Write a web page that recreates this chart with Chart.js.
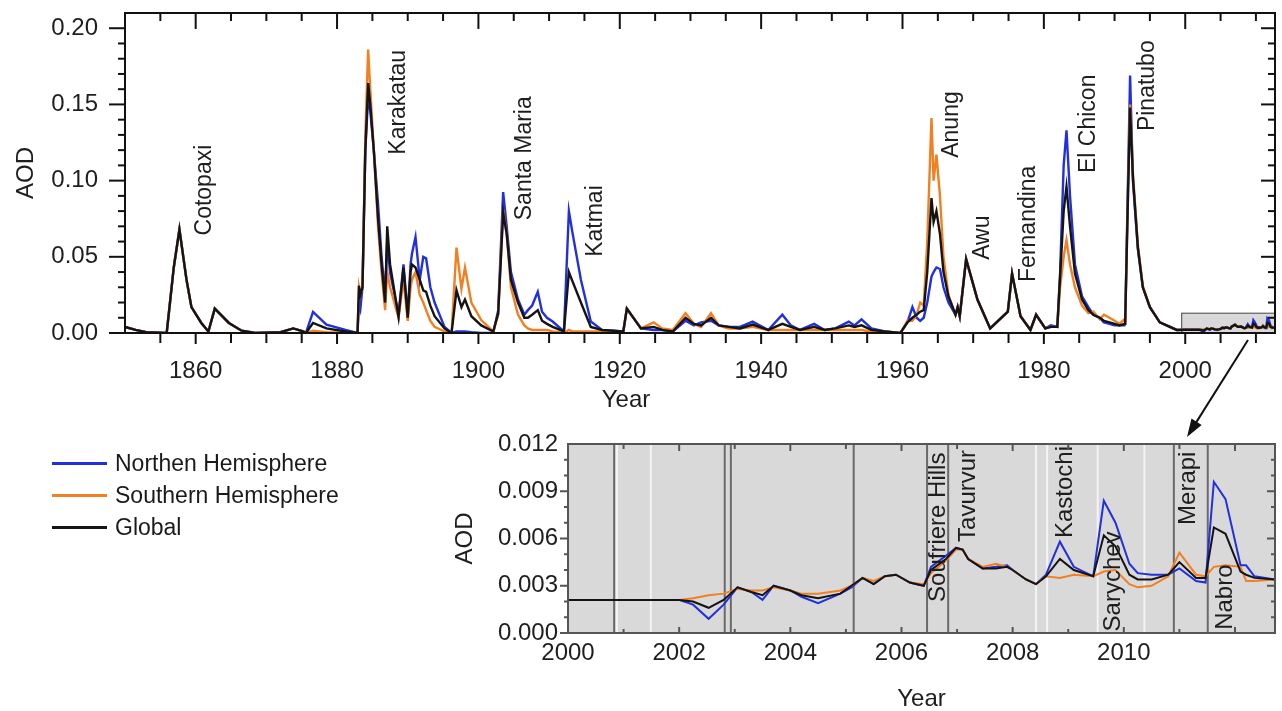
<!DOCTYPE html>
<html>
<head>
<meta charset="utf-8">
<script src="https://cdn.jsdelivr.net/npm/chart.js@4"></script>
<style>
  body { margin: 0; background: #fff; width: 1282px; height: 711px; overflow: hidden; position: relative;
         font-family: 'Liberation Sans', Arial, sans-serif; }
  #main { position: absolute; left: 0; top: 0; }
  #inset { position: absolute; left: 440px; top: 420px; }
  #legend { position: absolute; left: 52px; top: 447px; }
  .row { display: flex; align-items: center; height: 32px; font-size: 23px; color: #1a1a1a; }
  .row i { display: inline-block; width: 55px; height: 3px; margin-right: 8px; }
</style>
</head>
<body>
<canvas id="main" width="1282" height="711"></canvas>
<canvas id="inset" width="842" height="300"></canvas>
<div id="legend"></div>
<script>
const seriesNames = ['Northen Hemisphere', 'Southern Hemisphere', 'Global'];
const seriesColors = ['#2230dc', '#f08022', '#141414'];

// long record, 1850-2000
const mainYears = [1850.0, 1851.5, 1853.0, 1855.9, 1856.9, 1857.7, 1858.7, 1859.4, 1860.8, 1861.8,
  1862.7, 1864.7, 1866.5, 1868.4, 1872.0, 1873.8, 1875.2, 1875.6, 1876.6, 1878.5,
  1881.2, 1882.9, 1883.1, 1883.3, 1883.6, 1884.0, 1884.4, 1884.7, 1885.2, 1885.8,
  1886.3, 1886.8, 1887.1, 1887.5, 1888.7, 1889.4, 1890.0, 1890.4, 1890.6, 1891.1,
  1891.7, 1892.2, 1892.6, 1893.2, 1893.8, 1895.2, 1896.2, 1896.9, 1897.6, 1898.1,
  1899.0, 1900.4, 1902.1, 1902.8, 1903.5, 1904.0, 1904.6, 1905.6, 1906.5, 1907.0,
  1907.6, 1908.4, 1909.0, 1909.7, 1910.5, 1912.1, 1912.8, 1913.3, 1914.5, 1915.9,
  1917.5, 1920.5, 1921.0, 1923.0, 1924.8, 1926.0, 1927.5, 1929.3, 1930.5, 1931.5,
  1932.9, 1934.0, 1935.4, 1937.0, 1938.8, 1941.0, 1943.0, 1944.2, 1945.5, 1947.5,
  1949.0, 1950.5, 1952.4, 1953.2, 1954.2, 1955.6, 1957.5, 1959.7, 1960.7, 1961.4,
  1962.0, 1962.5, 1963.0, 1963.5, 1964.1, 1964.4, 1964.8, 1965.3, 1965.8, 1966.5,
  1967.5, 1967.8, 1968.1, 1969.0, 1970.6, 1972.4, 1974.9, 1975.5, 1976.7, 1978.1,
  1978.9, 1980.2, 1981.0, 1981.9, 1982.3, 1982.8, 1983.2, 1983.7, 1984.4, 1985.4,
  1986.3, 1987.0, 1987.9, 1988.5, 1989.3, 1990.0, 1990.7, 1991.4, 1991.5, 1991.9,
  1992.2, 1992.6, 1993.3, 1994.0, 1995.0, 1996.4, 1998.8];
const mainNorth = [.004, .002, .0005, 0, .043, .068, .035, .017, .0066, .001,
  .016, .0066, .0015, 0, .0005, .003, .001, 0, .0138, .0055,
  .002, 0, .02, .016, .03, .12, .155, .146, .12, .085,
  .05, .025, .06, .04, .012, .045, .012, .045, .052, .063,
  .035, .05, .049, .03, .02, .004, 0, .001, .001, .001,
  .0005, 0, 0, .015, .0925, .07, .04, .022, .012, .015,
  .018, .027, .014, .01, .0075, .001, .08, .066, .035, .0075,
  .002, .001, .016, .003, .002, .002, .001, .008, .005, .007,
  .008, .005, .004, .004, .0075, .002, .012, .005, .002, .006,
  .002, .003, .0075, .005, .009, .003, .001, 0, .007, .017,
  .01, .008, .01, .02, .037, .04, .043, .042, .03, .02,
  .012, .017, .011, .0485, .022, .003, .014, .039, .011, .002,
  .012, .003, .005, .004, .04, .11, .133, .09, .045, .024,
  .017, .012, .01, .007, .006, .005, .005, .005, .006, .1,
  .169, .1, .055, .03, .017, .007, .002];
const mainSouth = [.004, .002, .0005, 0, .043, .068, .035, .017, .0066, .001,
  .016, .0066, .0015, 0, .0005, .003, .001, 0, .0015, .0005,
  0, 0, .03, .025, .03, .13, .186, .16, .12, .07,
  .04, .015, .04, .03, .01, .035, .008, .03, .035, .04,
  .025, .02, .015, .008, .004, .001, 0, .056, .029, .043,
  .02, .0085, .001, .012, .081, .065, .03, .012, .005, .003,
  .002, .002, .002, .002, .001, 0, .002, .001, .001, .001,
  .001, .001, .016, .003, .007, .003, .002, .013, .006, .004,
  .013, .005, .003, .003, .004, .002, .002, .002, .002, .002,
  .002, .002, .002, .002, .002, .001, .001, 0, .008, .008,
  .012, .02, .018, .06, .141, .1, .117, .09, .05, .025,
  .012, .017, .011, .0485, .022, .003, .014, .039, .011, .002,
  .012, .003, .004, .004, .03, .05, .061, .045, .03, .018,
  .013, .014, .009, .012, .01, .008, .006, .009, .006, .09,
  .15, .105, .058, .031, .017, .007, .002];
const mainGlobal = [.004, .002, .0005, 0, .043, .068, .035, .017, .0066, .001,
  .016, .0066, .0015, 0, .0005, .003, .001, 0, .0066, .003,
  .001, 0, .031, .025, .03, .12, .164, .15, .12, .075,
  .045, .02, .07, .045, .0105, .043, .01, .04, .045, .043,
  .035, .028, .027, .018, .011, .003, 0, .028, .017, .022,
  .011, .005, .001, .013, .079, .065, .035, .02, .01, .01,
  .012, .015, .008, .006, .004, .001, .04, .034, .02, .004,
  .002, .001, .016, .003, .004, .002, .001, .01, .006, .005,
  .01, .005, .004, .003, .0055, .002, .006, .004, .002, .004,
  .002, .003, .005, .004, .005, .002, .001, 0, .007, .01,
  .012, .014, .015, .04, .0886, .073, .08, .065, .04, .024,
  .012, .017, .011, .0485, .022, .003, .014, .039, .011, .002,
  .012, .003, .004, .004, .037, .08, .096, .07, .039, .022,
  .015, .012, .01, .008, .007, .006, .005, .006, .006, .09,
  .148, .102, .056, .03, .017, .007, .002];

// recent record, 2000-2012 (inset)
const insetYears = [2000.0, 2002.0, 2002.25, 2002.53, 2002.8, 2003.05, 2003.3, 2003.5, 2003.7, 2004.0,
  2004.2, 2004.5, 2004.9, 2005.1, 2005.3, 2005.5, 2005.7, 2005.9, 2006.15, 2006.4,
  2006.53, 2006.8, 2006.98, 2007.1, 2007.2, 2007.46, 2007.7, 2007.9, 2008.0, 2008.24,
  2008.42, 2008.6, 2008.85, 2009.1, 2009.45, 2009.64, 2009.85, 2010.1, 2010.25, 2010.5,
  2010.8, 2011.0, 2011.3, 2011.47, 2011.62, 2011.83, 2012.1, 2012.2, 2012.35, 2012.72];
const insetNorth = [.0021, .0021, .0018, .0009, .0018, .0029, .0026, .0021, .003, .0027,
  .0023, .0019, .0025, .0029, .0035, .0031, .0036, .0037, .0032, .003,
  .0042, .0049, .0054, .0053, .0047, .0041, .0042, .0043, .004, .0034,
  .0031, .0037, .0058, .0042, .0036, .0084, .007, .0044, .0038, .0037,
  .0037, .0041, .0033, .0032, .0096, .0085, .0043, .0043, .0036, .0034];
const insetSouth = [.0021, .0021, .0022, .0024, .0025, .0028, .0027, .0027, .0029, .0027,
  .0025, .0025, .0027, .003, .0035, .0033, .0036, .0037, .0032, .0031,
  .0038, .0046, .0053, .0053, .0047, .0042, .0044, .0042, .004, .0034,
  .0031, .0036, .0035, .0037, .0036, .0039, .004, .0031, .0029, .003,
  .0036, .0051, .0037, .0036, .0042, .0043, .0042, .0033, .0033, .0034];
const insetGlobal = [.0021, .0021, .002, .0016, .0021, .0029, .0026, .0024, .003, .0027,
  .0024, .0022, .0025, .003, .0035, .0031, .0036, .0037, .0032, .003,
  .004, .0047, .0054, .0053, .0047, .0041, .0041, .0042, .004, .0034,
  .0031, .0036, .0047, .004, .0036, .0062, .0055, .0037, .0034, .0034,
  .0037, .0045, .0035, .0035, .0067, .0063, .0039, .0037, .0035, .0034];

// eruption markers in the inset
const insetDarkLines = [2000.83, 2002.82, 2002.93, 2005.14, 2006.46, 2006.84, 2010.9, 2011.51];
const insetLightLines = [2000.88, 2001.49, 2008.42, 2008.62, 2009.53, 2010.37];

const mainEvents = ['Cotopaxi', 'Karakatau', 'Santa Maria', 'Katmai', 'Anung', 'Awu', 'Fernandina', 'El Chicon', 'Pinatubo'];
const insetEvents = ['Soufriere Hills', 'Tavurvur', 'Kastochi', 'Sarychev', 'Merapi', 'Nabro'];

const FONT = "'Liberation Sans', Arial, sans-serif";
Chart.defaults.font.family = FONT;
Chart.defaults.color = '#1e1e1e';

let pairs = (xs, ys) => xs.map((x, i) => ({x: x, y: ys[i]}));

let makeSets = (north, south, global, width) => [north, south, global].map((d, i) => ({
  label: seriesNames[i],
  data: d,
  borderColor: seriesColors[i],
  borderWidth: width,
  pointRadius: 0,
  tension: 0,
  fill: false,
  order: [2, 1, 0][i]
}));

// the tick padding also pads the chart area; drop that so the plot box sits where the figure has it
let noPad = s => { s.paddingTop = 0; s.paddingBottom = 0; s.paddingLeft = 0; s.paddingRight = 0; };

// frame and tick marks, drawn by hand so majors/minors and in/out ticks match the figure
const frameTicks = {
  id: 'frameTicks',
  afterDatasetsDraw(chart, args, o) {
    const {ctx, chartArea: a, scales: {x, y}} = chart;
    ctx.save();
    ctx.strokeStyle = o.color;
    ctx.lineWidth = o.width;
    let seg = (x1, y1, x2, y2) => { ctx.beginPath(); ctx.moveTo(x1, y1); ctx.lineTo(x2, y2); ctx.stroke(); };
    for (let k = 0; ; k++) {
      const v = o.xStart + k * o.xStep;
      if (v >= x.max) break;
      const px = x.getPixelForValue(v), m = v % o.xMajor === 0 ? 0 : 1;
      seg(px, a.bottom, px, a.bottom + o.bottom[m]);
      seg(px, a.top, px, a.top - o.top[m]);
    }
    for (let k = 0; ; k++) {
      const v = k * o.yStep;
      if (v > y.max - o.yStep / 2) break;
      const py = y.getPixelForValue(v), m = k % o.yMajor === 0 ? 0 : 1;
      seg(a.left, py, a.left - o.left[m], py);
      seg(a.right, py, a.right + o.right[m], py);
    }
    ctx.strokeRect(a.left, a.top, a.right - a.left, a.bottom - a.top);
    ctx.restore();
  }
};

let vText = (ctx, text, x, y) => {
  ctx.save();
  ctx.translate(x, y);
  ctx.rotate(-Math.PI / 2);
  ctx.fillText(text, 0, 0);
  ctx.restore();
};

const mainDecor = {
  id: 'mainDecor',
  beforeDatasetsDraw(chart) {
    const {ctx, scales: {x, y}} = chart;
    // zoom window for the inset
    const x0 = x.getPixelForValue(1999.5), x1 = x.getPixelForValue(2012.7);
    const y0 = y.getPixelForValue(0.013), y1 = y.getPixelForValue(0);
    ctx.save();
    ctx.fillStyle = '#d9d9d9';
    ctx.fillRect(x0, y0, x1 - x0, y1 - y0);
    ctx.strokeStyle = '#444';
    ctx.lineWidth = 1;
    ctx.strokeRect(x0, y0, x1 - x0, y1 - y0);
    ctx.restore();
  },
  afterDraw(chart) {
    const {ctx, scales: {x, y}} = chart;
    const at = [[1861.3, .064], [1888.7, .117], [1906.6, .074], [1916.6, .050], [1967.0, .115],
                [1971.4, .048], [1977.8, .0335], [1986.3, .105], [1994.7, .1325]];
    ctx.save();
    ctx.fillStyle = '#1e1e1e';
    ctx.font = '23px ' + FONT;
    ctx.textAlign = 'left';
    ctx.textBaseline = 'middle';
    mainEvents.forEach((name, i) => vText(ctx, name, x.getPixelForValue(at[i][0]), y.getPixelForValue(at[i][1])));
    ctx.font = '24px ' + FONT;
    ctx.textAlign = 'center';
    ctx.fillText('Year', 626, 400);
    // arrow to the inset
    const sx = 1248, sy = 340, ex = 1187, ey = 437;
    const dx = ex - sx, dy = ey - sy, len = Math.hypot(dx, dy), ux = dx / len, uy = dy / len;
    ctx.strokeStyle = '#111';
    ctx.lineWidth = 2;
    ctx.beginPath();
    ctx.moveTo(sx, sy);
    ctx.lineTo(ex - ux * 14, ey - uy * 14);
    ctx.stroke();
    ctx.fillStyle = '#111';
    ctx.beginPath();
    ctx.moveTo(ex, ey);
    ctx.lineTo(ex - ux * 18 - uy * 6, ey - uy * 18 + ux * 6);
    ctx.lineTo(ex - ux * 18 + uy * 6, ey - uy * 18 - ux * 6);
    ctx.closePath();
    ctx.fill();
    ctx.restore();
  }
};

const insetDecor = {
  id: 'insetDecor',
  beforeDatasetsDraw(chart) {
    const {ctx, chartArea: a, scales: {x}} = chart;
    ctx.save();
    ctx.fillStyle = '#d9d9d9';
    ctx.fillRect(a.left, a.top, a.right - a.left, a.bottom - a.top);
    ctx.lineWidth = 2;
    ctx.strokeStyle = '#f4f4f4';
    insetLightLines.forEach(v => {
      const px = x.getPixelForValue(v);
      ctx.beginPath(); ctx.moveTo(px, a.top); ctx.lineTo(px, a.bottom); ctx.stroke();
    });
    ctx.strokeStyle = '#6a6a6a';
    insetDarkLines.forEach(v => {
      const px = x.getPixelForValue(v);
      ctx.beginPath(); ctx.moveTo(px, a.top); ctx.lineTo(px, a.bottom); ctx.stroke();
    });
    ctx.restore();
  },
  afterDatasetsDraw(chart) {
    const {ctx, chartArea: a, scales: {x, y}} = chart;
    const at = [[2006.66, .00197], [2007.2, .00578], [2008.94, .00603], [2009.81, .0001], [2011.16, .00686], [2011.82, .0002]];
    ctx.save();
    ctx.beginPath();
    ctx.rect(a.left, a.top, a.right - a.left, a.bottom - a.top);
    ctx.clip();
    ctx.fillStyle = '#1e1e1e';
    ctx.font = '24px ' + FONT;
    ctx.textAlign = 'left';
    ctx.textBaseline = 'middle';
    insetEvents.forEach((name, i) => vText(ctx, name, x.getPixelForValue(at[i][0]), y.getPixelForValue(at[i][1])));
    ctx.restore();
  }
};

let tickFont = {size: 24};

new Chart(document.getElementById('main'), {
  type: 'line',
  data: {
    datasets: makeSets(
      pairs(mainYears, mainNorth).concat(pairs(insetYears, insetNorth)),
      pairs(mainYears, mainSouth).concat(pairs(insetYears, insetSouth)),
      pairs(mainYears, mainGlobal).concat(pairs(insetYears, insetGlobal)),
      2.4)
  },
  options: {
    responsive: false,
    animation: false,
    events: [],
    layout: {padding: {left: 0, top: 13, right: 7, bottom: 288}},
    plugins: {
      legend: {display: false},
      tooltip: {enabled: false},
      frameTicks: {color: '#111', width: 2, xStart: 1855, xStep: 5, xMajor: 20, yStep: 0.01, yMajor: 5,
                   bottom: [11, 10], top: [-16, -8], left: [16, 7], right: [-14, -7]}
    },
    scales: {
      x: {
        type: 'linear', min: 1850, max: 2012.7,
        grid: {display: false, drawTicks: false}, border: {display: false},
        ticks: {stepSize: 5, autoSkip: false, maxRotation: 0, padding: 24, font: tickFont,
                callback: v => (v % 20 === 0 ? String(v) : '')},
        afterFit: s => { s.height = 90; noPad(s); }
      },
      y: {
        min: 0, max: 0.21,
        grid: {display: false, drawTicks: false}, border: {display: false},
        ticks: {stepSize: 0.01, autoSkip: false, padding: 27, font: tickFont,
                callback: v => { const k = Math.round(v * 100); return k % 5 === 0 ? (k / 100).toFixed(2) : ''; }},
        title: {display: true, text: 'AOD', font: tickFont, padding: {top: 12, bottom: 0}},
        afterFit: s => { s.width = 125; noPad(s); }
      }
    }
  },
  plugins: [mainDecor, frameTicks]
});

new Chart(document.getElementById('inset'), {
  type: 'line',
  data: {
    datasets: makeSets(pairs(insetYears, insetNorth), pairs(insetYears, insetSouth), pairs(insetYears, insetGlobal), 2)
  },
  options: {
    responsive: false,
    animation: false,
    events: [],
    layout: {padding: {left: 0, top: 24, right: 7, bottom: 0}},
    plugins: {
      legend: {display: false},
      tooltip: {enabled: false},
      frameTicks: {color: '#555', width: 2, xStart: 2001, xStep: 1, xMajor: 2, yStep: 0.001, yMajor: 3,
                   bottom: [-6, -4], top: [-7, -5], left: [8, 4], right: [-8, -4]}
    },
    scales: {
      x: {
        type: 'linear', min: 2000, max: 2012.72,
        grid: {display: false, drawTicks: false}, border: {display: false},
        ticks: {stepSize: 1, autoSkip: false, maxRotation: 0, padding: 6, font: tickFont,
                callback: v => (v % 2 === 0 ? String(v) : '')},
        title: {display: true, text: 'Year', font: tickFont, padding: {top: 0, bottom: 6}},
        afterFit: s => { s.height = 87; noPad(s); }
      },
      y: {
        min: 0, max: 0.012,
        grid: {display: false, drawTicks: false}, border: {display: false},
        ticks: {stepSize: 0.001, autoSkip: false, padding: 10, font: tickFont,
                callback: v => { const k = Math.round(v * 1000); return k % 3 === 0 ? (k / 1000).toFixed(3) : ''; }},
        title: {display: true, text: 'AOD', font: tickFont, padding: {top: 11, bottom: 0}},
        afterFit: s => { s.width = 128; noPad(s); }
      }
    }
  },
  plugins: [insetDecor, frameTicks]
});

let legend = document.getElementById('legend');
seriesNames.forEach((name, i) => {
  let row = document.createElement('div');
  row.className = 'row';
  row.innerHTML = '<i style="background:' + seriesColors[i] + '"></i><span>' + name + '</span>';
  legend.appendChild(row);
});
</script>
</body>
</html>
